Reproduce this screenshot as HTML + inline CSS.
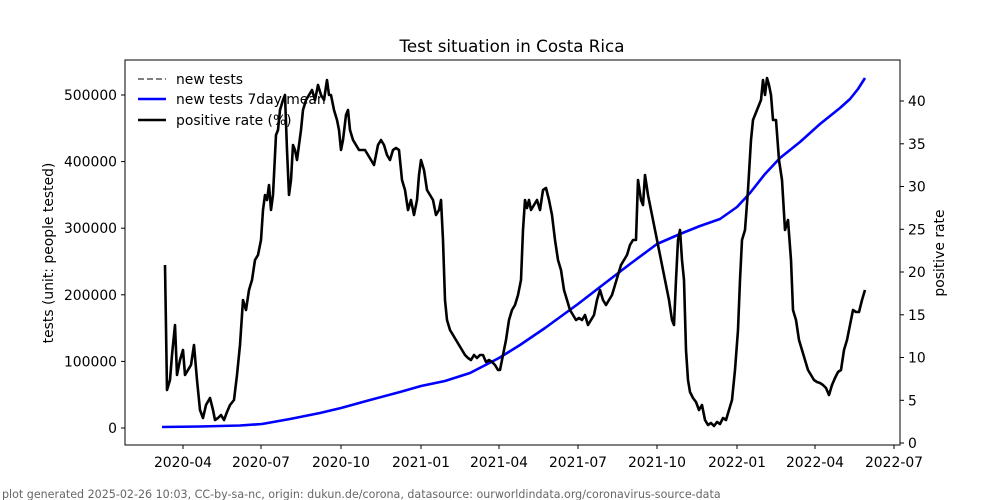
<!DOCTYPE html>
<html><head><meta charset="utf-8"><style>
body{margin:0;background:#fff;}
svg{display:block;font-family:"DejaVu Sans","Liberation Sans",sans-serif;}
</style></head><body>
<svg width="1000" height="500" viewBox="0 0 1000 500" xmlns="http://www.w3.org/2000/svg">
<rect width="1000" height="500" fill="#fff"/>
<text x="512" y="52" font-size="16.7" text-anchor="middle">Test situation in Costa Rica</text>
<!-- blue line -->
<polyline fill="none" stroke="#0000ff" stroke-width="2.6" stroke-linejoin="round" points="162,427 200,426.5 240,425.5 262,424 290,419 320,413 341,408 370,400 400,392 421,386 445,381 470,373 499,358 520,345 545,328 578,304 600,287 630,264 657,244 680,234 700,226 720,219 737,207 750,193 765,174 780,158 800,142 820,124 840,108 850,99 858,89 865,78"/>
<!-- black line -->
<polyline fill="none" stroke="#000" stroke-width="2.6" stroke-linejoin="round" points="165,265 167,390 170,380 172,355 175,325 177,375 180,360 183,350 185,375 188,370 191,365 194,345 197,380 200,410 203,418 206,405 210,398 213,410 215,420 218,418 221,415 224,420 227,412 230,405 234,400 237,375 240,345 243,300 246,310 249,290 252,280 255,260 258,255 261,240 263,210 265,195 267,200 269,185 271,210 273,195 276,135 278,130 280,110 283,100 285,95 287,150 289,195 291,180 293,145 295,150 297,160 299,145 301,130 303,110 306,100 309,95 312,90 315,100 318,85 321,95 324,100 327,80 329,95 331,95 334,110 337,120 339,130 341,150 343,140 346,115 348,110 350,130 353,140 356,145 359,150 362,150 365,150 368,155 371,160 374,165 378,145 381,140 384,145 387,155 390,160 393,150 396,148 399,150 402,180 405,190 408,210 411,200 414,215 417,200 419,175 421,160 424,170 427,190 430,195 433,200 436,215 439,210 441,200 443,240 445,300 447,320 450,330 453,335 456,340 459,345 462,350 465,355 468,358 471,360 474,355 477,358 480,355 483,355 486,362 489,360 492,362 495,365 498,370 500,370 503,355 506,340 509,320 512,310 515,305 518,295 521,280 523,230 525,200 527,208 529,200 531,210 534,205 537,200 540,210 543,190 546,188 549,200 552,215 555,240 558,260 561,270 564,290 567,300 570,310 573,315 576,320 579,318 582,320 585,315 588,325 591,320 594,315 597,300 600,290 603,300 606,305 609,300 612,295 615,285 618,275 621,265 624,260 627,255 630,245 633,240 636,240 638,180 641,200 643,205 645,175 648,195 651,210 654,225 657,240 660,255 663,270 666,285 669,300 672,320 674,325 676,280 678,240 680,230 682,260 684,280 686,350 688,380 690,392 693,398 696,402 699,410 702,405 705,420 708,425 711,423 714,426 717,422 720,424 723,418 726,420 729,410 732,400 735,370 738,330 740,280 742,240 745,230 748,190 751,140 753,120 755,115 757,110 759,105 761,100 763,80 765,95 767,78 769,85 771,95 773,120 776,120 779,160 782,180 785,230 788,220 791,260 793,310 796,320 799,340 802,350 805,360 808,370 811,375 814,380 817,382 820,383 823,385 826,388 829,395 832,385 835,378 838,372 841,370 844,350 847,340 850,325 853,310 856,312 859,312 862,300 865,290"/>
<!-- axes box -->
<rect x="125" y="60" width="775" height="385" fill="none" stroke="#000" stroke-width="1"/>
<g font-size="13.9" fill="#000">
<g stroke="#000"><line x1="121" y1="428" x2="125" y2="428"/><line x1="121" y1="361.4" x2="125" y2="361.4"/><line x1="121" y1="294.8" x2="125" y2="294.8"/><line x1="121" y1="228.2" x2="125" y2="228.2"/><line x1="121" y1="161.6" x2="125" y2="161.6"/><line x1="121" y1="95" x2="125" y2="95"/></g>
<g text-anchor="end"><text x="117" y="433">0</text><text x="117" y="366.4">100000</text><text x="117" y="299.8">200000</text><text x="117" y="233.2">300000</text><text x="117" y="166.6">400000</text><text x="117" y="100">500000</text></g>
<text transform="translate(53,253) rotate(-90)" text-anchor="middle">tests (unit: people tested)</text>
<g stroke="#000"><line x1="900" y1="443" x2="904" y2="443"/><line x1="900" y1="400.3" x2="904" y2="400.3"/><line x1="900" y1="357.5" x2="904" y2="357.5"/><line x1="900" y1="314.8" x2="904" y2="314.8"/><line x1="900" y1="272" x2="904" y2="272"/><line x1="900" y1="229.3" x2="904" y2="229.3"/><line x1="900" y1="186.5" x2="904" y2="186.5"/><line x1="900" y1="143.8" x2="904" y2="143.8"/><line x1="900" y1="101" x2="904" y2="101"/></g>
<g><text x="908" y="448">0</text><text x="908" y="405.3">5</text><text x="908" y="362.5">10</text><text x="908" y="319.8">15</text><text x="908" y="277">20</text><text x="908" y="234.3">25</text><text x="908" y="191.5">30</text><text x="908" y="148.8">35</text><text x="908" y="106">40</text></g>
<text transform="translate(944,253) rotate(-90)" text-anchor="middle">positive rate</text>
<g stroke="#000"><line x1="183" y1="445" x2="183" y2="449"/><line x1="261" y1="445" x2="261" y2="449"/><line x1="341" y1="445" x2="341" y2="449"/><line x1="421" y1="445" x2="421" y2="449"/><line x1="499" y1="445" x2="499" y2="449"/><line x1="578" y1="445" x2="578" y2="449"/><line x1="657" y1="445" x2="657" y2="449"/><line x1="737" y1="445" x2="737" y2="449"/><line x1="815" y1="445" x2="815" y2="449"/><line x1="894" y1="445" x2="894" y2="449"/></g>
<g text-anchor="middle"><text x="183" y="467">2020-04</text><text x="261" y="467">2020-07</text><text x="341" y="467">2020-10</text><text x="421" y="467">2021-01</text><text x="499" y="467">2021-04</text><text x="578" y="467">2021-07</text><text x="657" y="467">2021-10</text><text x="737" y="467">2022-01</text><text x="815" y="467">2022-04</text><text x="894" y="467">2022-07</text></g>
<line x1="138" y1="79" x2="166" y2="79" stroke="#808080" stroke-width="2" stroke-dasharray="6,3"/>
<line x1="138" y1="99" x2="166" y2="99" stroke="#0000ff" stroke-width="2.6"/>
<line x1="138" y1="120" x2="166" y2="120" stroke="#000" stroke-width="2.6"/>
<text x="176" y="84">new tests</text><text x="176" y="104">new tests 7day mean</text><text x="176" y="125">positive rate (%)</text>
</g>
<text x="2" y="498" font-size="11.1" fill="#666">plot generated 2025-02-26 10:03, CC-by-sa-nc, origin: dukun.de/corona, datasource: ourworldindata.org/coronavirus-source-data</text>
</svg>
</body></html>
